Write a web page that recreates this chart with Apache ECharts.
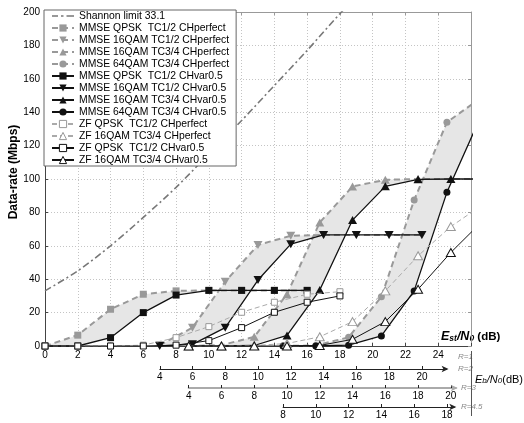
<!DOCTYPE html>
<html><head><meta charset="utf-8">
<script src="https://cdn.jsdelivr.net/npm/echarts@6/dist/echarts.min.js"></script>
<style>html,body{margin:0;padding:0;background:#fff}#c{width:524px;height:423px}</style>
</head><body><div id="c"></div>
<script>
// ---- data (Es/N0 in dB, data-rate in Mbps) ----
const shannonEs = [0, 2, 4, 6, 8, 10, 12, 14, 16, 18, 19];
const shannonRate = [33, 45, 60, 77, 95, 115, 135, 156, 177, 199, 209];

const qpskEs   = [0, 2, 4, 6, 8, 10, 12, 14, 16];
const qam16hEs = [7, 9, 11, 13, 15, 17, 19, 21, 23];
const qam16tEs = [8.77, 10.77, 12.77, 14.77, 16.77, 18.77, 20.77, 22.77, 24.77, 26.77];
const qam64Es  = [14.53, 16.53, 18.53, 20.53, 22.53, 24.53, 26.53];
const zfQpskEs = [0, 2, 4, 6, 8, 10, 12, 14, 16, 18];

const mmseQpskPerf   = [0, 6.5, 22, 31, 33, 33.3, 33.3, 33.3, 33.3];
const mmse16hPerf    = [0.5, 11, 38.5, 60.5, 66, 66.5, 66.5, 66.5, 66.5];
const mmse16tPerf    = [0, 0.5, 5.5, 31, 74, 95.5, 99.5, 100, 100, 100];
const mmse64Perf     = [0, 0.3, 5.2, 29.5, 87.4, 134, 148];
const mmseQpskVar    = [0, 0, 5, 20, 30.5, 33.3, 33.3, 33.3, 33.3];
const mmse16hVar     = [0, 1, 11, 39.5, 61, 66.5, 66.5, 66.5, 66.5];
const mmse16tVar     = [0, 0, 0.3, 6.3, 33.5, 75.4, 95.6, 99.8, 100, 100];
const mmse64Var      = [0, 0, 0.5, 6, 33, 92, 136];
const zfQpskPerf     = [0, 0, 0, 0.5, 5, 11.6, 20.2, 26.2, 31, 32.5];
const zf16tPerf      = [0, 0, 0.3, 1.5, 5.5, 14.6, 33, 54, 71.5, 85];
const zfQpskVar      = [0, 0, 0, 0, 0.5, 3.2, 11, 20.2, 26.2, 30];
const zf16tVar       = [0, 0, 0, 0, 0.3, 4, 14.6, 34, 56, 75.5];

const seriesNames = [
  'Shannon limit 33.1',
  'MMSE QPSK  TC1/2 CHperfect', 'MMSE 16QAM TC1/2 CHperfect', 'MMSE 16QAM TC3/4 CHperfect', 'MMSE 64QAM TC3/4 CHperfect',
  'MMSE QPSK  TC1/2 CHvar0.5', 'MMSE 16QAM TC1/2 CHvar0.5', 'MMSE 16QAM TC3/4 CHvar0.5', 'MMSE 64QAM TC3/4 CHvar0.5',
  'ZF QPSK  TC1/2 CHperfect', 'ZF 16QAM TC3/4 CHperfect', 'ZF QPSK  TC1/2 CHvar0.5', 'ZF 16QAM TC3/4 CHvar0.5'
];

// secondary Eb/N0 axes
const ebRates   = ['R=2', 'R=3', 'R=4.5'];
const ebShiftDb = [3.0103, 4.7712, 6.5321];
const ebTicks   = [[4, 6, 8, 10, 12, 14, 16, 18, 20], [4, 6, 8, 10, 12, 14, 16, 18, 20], [8, 10, 12, 14, 16, 18]];
const ebMin     = [4, 4, 8];
const ebMax     = [21.5, 20.3, 18.45];
const esTicks   = [0, 2, 4, 6, 8, 10, 12, 14, 16, 18, 20, 22, 24];

// ---- layout ----
const G = {left: 45, top: 12, width: 426, height: 334};
const X_MAX = 26;
const pxPerDb = G.width / X_MAX;
const ebLineY = [369, 388, 407];
const ebLineColor = ['#222', '#aaa', '#222'];
const ebLineWidth = [1, 2, 1];

const pairs = (xs, ys) => xs.map((x, i) => [x, ys[i]]);
const GREY = '#999';
const DOWN = 'path://M0,0 L10,0 L5,9 Z';
const UP = 'path://M5,0 L10,9 L0,9 Z';
const DASHDOT_ICON = 'path://M0,0h6v1.6h-6z M9,0h2.5v1.6h-2.5z M14.5,0h7.5v1.6h-7.5z';

function perfSeries(name, xs, ys, sym, size) {
  return {name, type: 'line', data: pairs(xs, ys), symbol: sym, symbolSize: size,
    lineStyle: {color: GREY, width: 2, type: [6, 4]}, itemStyle: {color: GREY}, z: 3};
}
function varSeries(name, xs, ys, sym, size) {
  return {name, type: 'line', data: pairs(xs, ys), symbol: sym, symbolSize: size,
    lineStyle: {color: '#111', width: 1.3}, itemStyle: {color: '#111'}, z: 4};
}
function zfPerf(name, xs, ys, sym, size) {
  return {name, type: 'line', data: pairs(xs, ys), symbol: sym, symbolSize: size,
    lineStyle: {color: '#aaa', width: 1, type: [5, 3]}, itemStyle: {color: '#fff', borderColor: '#999', borderWidth: 1}, z: 5};
}
function zfVar(name, xs, ys, sym, size) {
  return {name, type: 'line', data: pairs(xs, ys), symbol: sym, symbolSize: size,
    lineStyle: {color: '#111', width: 1}, itemStyle: {color: '#fff', borderColor: '#111', borderWidth: 1}, z: 6};
}

const fills = [
  [qpskEs, mmseQpskPerf, qpskEs, mmseQpskVar],
  [qam16hEs, mmse16hPerf, qam16hEs, mmse16hVar],
  [qam16tEs.slice(0, 9), mmse16tPerf.slice(0, 9), qam16tEs.slice(0, 9), mmse16tVar.slice(0, 9)],
  [qam64Es, mmse64Perf, qam64Es, mmse64Var]
];

const grids = [{left: G.left, top: G.top, width: G.width, height: G.height}];
const xAxes = [
  {gridIndex: 0, type: 'value', min: 0, max: X_MAX, interval: 2,
    axisLine: {lineStyle: {color: '#444'}}, axisTick: {inside: true, length: 3, lineStyle: {color: '#444'}},
    axisLabel: {customValues: esTicks, color: '#000', fontSize: 10, margin: 4, fontFamily: 'Liberation Sans'},
    splitLine: {show: true, lineStyle: {color: '#c4c4c4', type: [1, 2]}}},
  {gridIndex: 0, type: 'value', position: 'top', min: 0, max: X_MAX, interval: 2,
    axisLine: {onZero: false, lineStyle: {color: '#999'}}, axisTick: {inside: true, length: 3, lineStyle: {color: '#999'}},
    axisLabel: {show: false}, splitLine: {show: false}}
];
const yAxes = [
  {gridIndex: 0, type: 'value', min: 0, max: 200, interval: 20,
    axisLine: {show: true, lineStyle: {color: '#444'}}, axisTick: {show: true, inside: true, length: 3, lineStyle: {color: '#444'}},
    axisLabel: {color: '#000', fontSize: 10, margin: 5, fontFamily: 'Liberation Sans'},
    splitLine: {show: true, lineStyle: {color: '#c4c4c4', type: [1, 2]}}},
  {gridIndex: 0, type: 'value', position: 'right', min: 0, max: 200, interval: 20,
    axisLine: {show: true, onZero: false, lineStyle: {color: '#999'}}, axisTick: {show: true, inside: true, length: 3, lineStyle: {color: '#999'}},
    axisLabel: {show: false}, splitLine: {show: false}}
];
ebRates.forEach((r, i) => {
  const gi = i + 1;
  grids.push({left: G.left + (ebMin[i] + ebShiftDb[i]) * pxPerDb, width: (ebMax[i] - ebMin[i]) * pxPerDb,
    top: ebLineY[i] - 1, height: 1});
  xAxes.push({gridIndex: gi, type: 'value', min: ebMin[i], max: ebMax[i], interval: 2,
    axisLine: {show: true, symbol: ['none', 'arrow'], symbolSize: [5, 7], symbolOffset: [0, 2],
      lineStyle: {color: ebLineColor[i], width: ebLineWidth[i]}},
    axisTick: {show: true, inside: true, length: 3, customValues: ebTicks[i], lineStyle: {color: '#222'}},
    axisLabel: {customValues: ebTicks[i], color: '#000', fontSize: 10, margin: 3, fontFamily: 'Liberation Sans'},
    splitLine: {show: false}});
  yAxes.push({gridIndex: gi, type: 'value', show: false, min: 0, max: 1});
});

const series = [
  {type: 'custom', name: 'fill', xAxisIndex: 0, yAxisIndex: 0, clip: true, z: 1, silent: true,
    data: fills.map((f, i) => [i, 0]),
    renderItem: function (params, api) {
      const f = fills[api.value(0)];
      const a = f[0].map((x, k) => api.coord([x, f[1][k]]));
      const b = f[2].map((x, k) => api.coord([x, f[3][k]])).reverse();
      return {type: 'polygon', shape: {points: a.concat(b)}, style: {fill: '#e6e6e6', stroke: null}};
    }},
  {name: seriesNames[0], type: 'line', data: pairs(shannonEs, shannonRate), smooth: 0.3, symbol: 'none',
    lineStyle: {color: '#777', width: 1.6, type: [7, 3, 2, 3]}, itemStyle: {color: '#777'}, z: 2},
  perfSeries(seriesNames[1], qpskEs, mmseQpskPerf, 'rect', 7),
  perfSeries(seriesNames[2], qam16hEs, mmse16hPerf, DOWN, [9, 8]),
  perfSeries(seriesNames[3], qam16tEs, mmse16tPerf, UP, [9, 8]),
  perfSeries(seriesNames[4], qam64Es, mmse64Perf, 'circle', 7),
  varSeries(seriesNames[5], qpskEs, mmseQpskVar, 'rect', 7),
  varSeries(seriesNames[6], qam16hEs, mmse16hVar, DOWN, [9, 8]),
  varSeries(seriesNames[7], qam16tEs, mmse16tVar, UP, [9, 8]),
  varSeries(seriesNames[8], qam64Es, mmse64Var, 'circle', 7),
  zfPerf(seriesNames[9], zfQpskEs, zfQpskPerf, 'rect', 6),
  zfPerf(seriesNames[10], qam16tEs, zf16tPerf, UP, [9, 8]),
  zfVar(seriesNames[11], zfQpskEs, zfQpskVar, 'rect', 6),
  zfVar(seriesNames[12], qam16tEs, zf16tVar, UP, [9, 8])
];

const legendData = seriesNames.map((n, i) => {
  if (i === 0) return {name: n, icon: DASHDOT_ICON, itemStyle: {color: '#777'}};
  if (i >= 9) return {name: n, itemStyle: {borderWidth: 1}};
  return n;
});

const chart = echarts.init(document.getElementById('c'), null, {renderer: 'canvas'});
const ital = {fontFamily: 'Liberation Sans', fontStyle: 'italic', fill: '#888', fontSize: 8};
chart.setOption({
  animation: false,
  backgroundColor: '#fff',
  grid: grids, xAxis: xAxes, yAxis: yAxes, series,
  legend: {data: legendData, orient: 'vertical', left: 44, top: 10, itemWidth: 22, itemHeight: 9, itemGap: 2,
    padding: [1, 7, 1, 7], backgroundColor: '#fff', borderColor: '#666', borderWidth: 1, borderRadius: 0,
    selectedMode: false, inactiveColor: '#999',
    textStyle: {fontSize: 10.4, lineHeight: 10, color: '#000', fontFamily: 'Liberation Sans'}},
  graphic: [
    {type: 'text', x: 14, y: 172, rotation: Math.PI / 2,
      style: {text: 'Data-rate (Mbps)', font: 'bold 12px "Liberation Sans"', fill: '#000', align: 'center', verticalAlign: 'middle'}},
    {type: 'text', x: 441, y: 329,
      style: {text: '{e|E}{s|st}{e|/N}{s|0}{d| (dB)}', rich: {
        e: {font: 'bold italic 12.5px "Liberation Sans"', fill: '#000', verticalAlign: 'bottom', lineHeight: 14},
        s: {font: 'bold italic 8.5px "Liberation Sans"', fill: '#000', verticalAlign: 'bottom', lineHeight: 14, padding: [5, 0, 0, 0]},
        d: {font: 'bold 11.5px "Liberation Sans"', fill: '#000', verticalAlign: 'bottom', lineHeight: 14}}}},
    {type: 'text', x: 458, y: 353, style: Object.assign({text: 'R=1'}, ital)},
    {type: 'text', x: 458, y: 365, style: Object.assign({text: ebRates[0]}, ital)},
    {type: 'text', x: 461, y: 384, style: Object.assign({text: ebRates[1]}, ital)},
    {type: 'text', x: 461, y: 403, style: Object.assign({text: ebRates[2]}, ital)},
    {type: 'line', shape: {x1: 471.5, y1: 351, x2: 471.5, y2: 416}, style: {stroke: '#555', lineWidth: 1}},
    {type: 'text', x: 475, y: 372,
      style: {text: '{e|E}{s|b}{e|/N}{s|0}{d|(dB)}', rich: {
        e: {font: 'italic 11px "Liberation Sans"', fill: '#000', lineHeight: 13, verticalAlign: 'bottom'},
        s: {font: 'italic 8px "Liberation Sans"', fill: '#000', lineHeight: 13, verticalAlign: 'bottom', padding: [4, 0, 0, 0]},
        d: {font: '11px "Liberation Sans"', fill: '#000', lineHeight: 13, verticalAlign: 'bottom'}}}}
  ]
});
</script></body></html>
